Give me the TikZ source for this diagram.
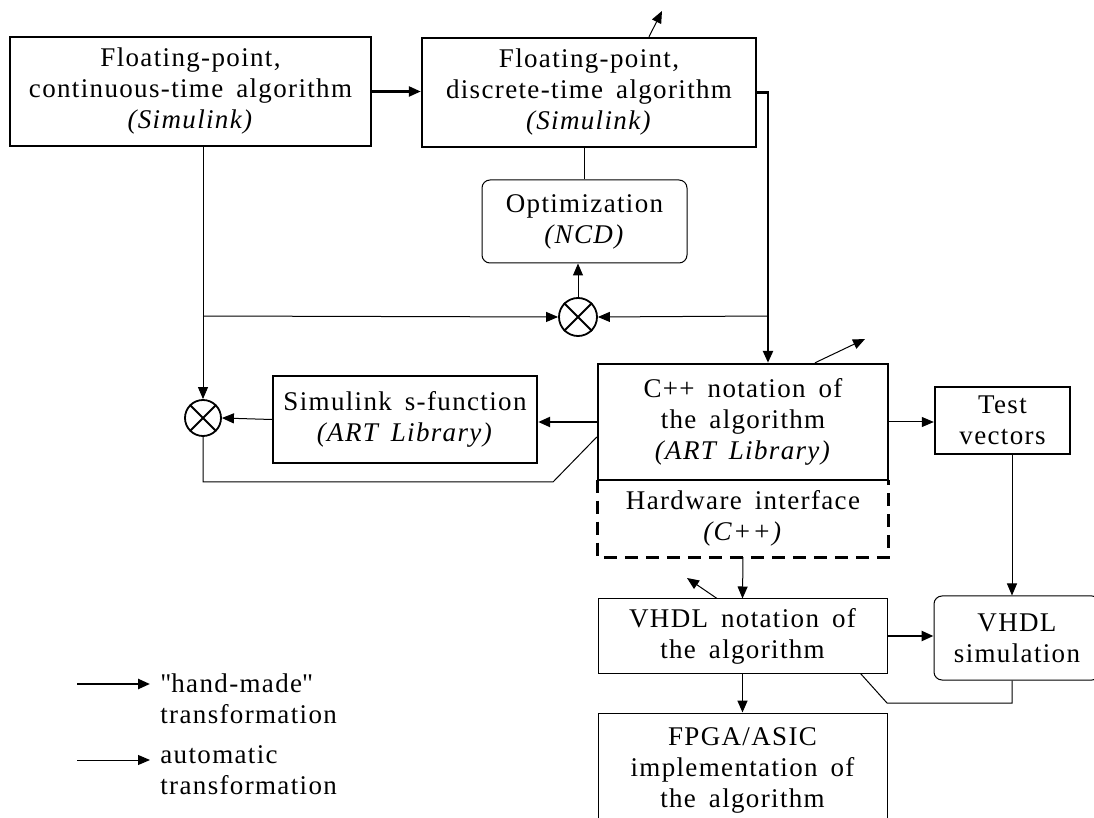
\documentclass[tikz,border=0pt]{standalone}
\usepackage{fontspec}
\setmainfont{Liberation Serif}[LetterSpace=5, WordSpace=1.6]
\usetikzlibrary{arrows.meta}

\begin{document}
\begin{tikzpicture}[x=0.5pt,y=-0.5pt,>={Triangle[length=6pt,width=5pt]},
	every node/.style={font=\fontsize{13.5}{15.5}\selectfont, align=center, inner sep=0pt},
	block/.style={draw, line width=1.2pt},
	soft/.style={draw, line width=0.5pt},
	roundblock/.style={soft, rounded corners=4pt},
	mult/.style={draw, circle, line width=0.9pt, minimum size=#1},
	hand/.style={->, line width=1.2pt},
	semi/.style={->, line width=0.8pt},
	auto/.style={->, line width=0.5pt}]
	\useasboundingbox (0,0) rectangle (1094,818);
	\clip (0,0) rectangle (1094,818);

	\node[block, minimum width=180.5pt, minimum height=54.5pt] (ct)   at (190.5,91.5) {Floating-point,\\continuous-time algorithm\\\textit{(Simulink)}};
	\node[block, minimum width=167pt, minimum height=54.5pt]   (dt)   at (589,92.5)   {Floating-point,\\discrete-time algorithm\\\textit{(Simulink)}};
	\node[roundblock, minimum width=102.5pt, minimum height=41.5pt] (opt) at (584.5,221.5) {Optimization\\\textit{(NCD)}};
	\node[mult=19pt] (mA) at (578,317) {};
	\node[mult=18pt] (mB) at (203,418) {};
	\node[block, minimum width=145pt, minimum height=58pt]     (cpp)  at (743,422)    {C++ notation of\\the algorithm\\\textit{(ART Library)}};
	\node[minimum width=145pt, minimum height=38.5pt]          (hw)   at (743,518.5)  {Hardware interface\\\textit{(C++)}};
	\node[block, minimum width=132pt, minimum height=43.5pt]   (sf)   at (405,419.5)  {Simulink s-function\\\textit{(ART Library)}};
	\node[block, minimum width=67.5pt, minimum height=33.5pt]  (tv)   at (1002.5,420.5) {Test\\vectors};
	\node[soft, minimum width=144.5pt, minimum height=37pt]    (vh)   at (742.5,636)  {VHDL notation of\\the algorithm};
	\node[roundblock, minimum width=83pt, minimum height=42pt] (sim)  at (1017,638)   {VHDL\\simulation};
	\node[soft, minimum width=144.5pt, minimum height=57pt]    (fp)   at (742.5,770)  {FPGA/ASIC\\implementation of\\the algorithm};

	\node[anchor=west, align=left] (lh) at (160,698.5) {\textquotedbl hand-made\textquotedbl\\transformation};
	\node[anchor=west, align=left] (la) at (160,770)   {automatic\\transformation};

	\coordinate (jr) at (768,316);
	\coordinate (jl) at (203,316);
	\coordinate (k1) at (553,482);
	\coordinate (k2) at (887,703);
	\coordinate (o1) at (662,11);
	\coordinate (o2) at (865,339);
	\coordinate (o3) at (687,578);
	\coordinate (lh0) at (77,684);
	\coordinate (la0) at (77,760);

	\draw[line width=0.9pt] (mA.north east) -- (mA.south west) (mA.north west) -- (mA.south east)
		(mB.north east) -- (mB.south west) (mB.north west) -- (mB.south east);
	\draw[block, dash pattern=on 6.5pt off 4pt] (hw.north west) -- (hw.south west) -- (hw.south east) -- (hw.north east);

	\draw[hand] (ct.east) -- (dt.west |- ct.east);
	\draw[hand] (dt.east) -| ([xshift=12.5pt]cpp.north);
	\draw[hand] (cpp.west) -- (sf.east |- cpp.west);
	\draw[hand] (vh.east) -- (sim.west |- vh.east);
	\draw[semi] (vh.south) -- (fp.north);

	\draw[auto] (jr) -- (mA.east);
	\draw[auto] (jl) -- (mA.west);
	\draw[auto] (ct.south -| mB.center) -- (mB.north);
	\draw[auto] (mA.north) -- (mA.north |- opt.south);
	\draw[auto] (sf.west) -- (mB.east);
	\draw[auto] (cpp.east) -- (tv.west |- cpp.east);
	\draw[auto] ([xshift=4.75pt]tv.south) -- ([xshift=4.75pt]tv.south |- sim.north);
	\draw[auto] (hw.south) -- (vh.north);
	\draw[auto] ([xshift=30pt]dt.north) -- (o1);
	\draw[auto] ([xshift=36pt]cpp.north) -- (o2);
	\draw[auto] ([xshift=-12.75pt]vh.north) -- (o3);

	\draw[soft] (opt.north) -- (opt.north |- dt.south);
	\draw[soft] (mB.south) |- (k1) -- ([yshift=-7.5pt]cpp.west);
	\draw[soft] ([xshift=-2.5pt]sim.south) |- (k2) -- ([xshift=-13.5pt]vh.south east);

	\draw[hand] (lh0) -- ([xshift=-5pt]lh0 -| lh.west);
	\draw[auto] (la0) -- ([xshift=-5pt]la0 -| la.west);
\end{tikzpicture}
\end{document}
